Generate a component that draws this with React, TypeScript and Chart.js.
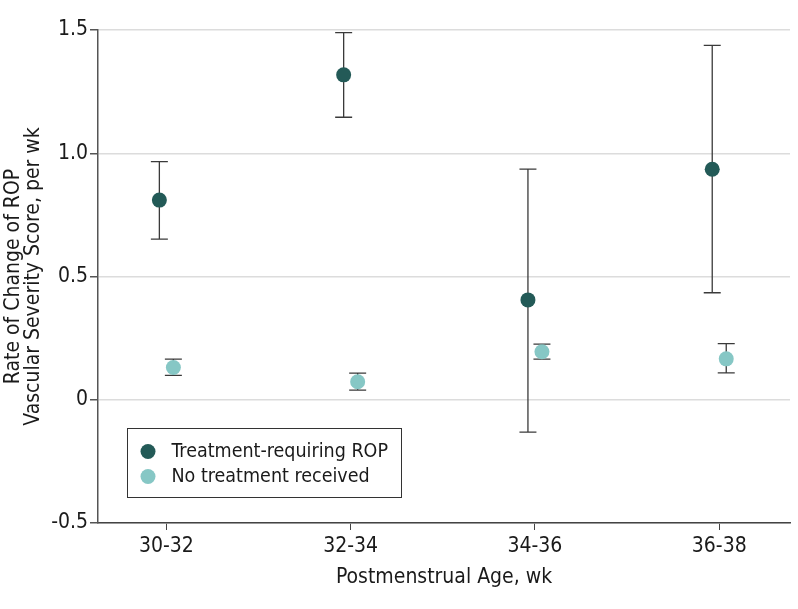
import React, { useEffect, useRef } from "react";
import { Chart, registerables } from "chart.js";

Chart.register(...registerables);

const categories = ["30-32", "32-34", "34-36", "36-38"];
const seriesNames = ["Treatment-requiring ROP", "No treatment received"];
const treatMean = [0.81, 1.318, 0.405, 0.935];
const treatLow = [0.652, 1.146, -0.131, 0.434];
const treatHigh = [0.966, 1.489, 0.936, 1.438];
const noTreatMean = [0.131, 0.073, 0.195, 0.166];
const noTreatLow = [0.099, 0.039, 0.165, 0.109];
const noTreatHigh = [0.165, 0.108, 0.226, 0.228];
const yTicks = [-0.5, 0, 0.5, 1.0, 1.5];
const yTickLabels = ["-0.5", "0", "0.5", "1.0", "1.5"];

const DARK = "#235a57";
const LIGHT = "#86c7c5";
const FONT = "'DejaVu Sans Condensed', 'DejaVu Sans', sans-serif";
const OFFSET = 0.038;

const errorBarPlugin = {
  id: "errorBars",
  beforeDatasetsDraw(chart: any) {
    const ctx = chart.ctx;
    const xs = chart.scales.x;
    const ys = chart.scales.y;
    chart.data.datasets.forEach((ds: any) => {
      ds.data.forEach((p: any) => {
        const x = xs.getPixelForValue(p.x);
        const y1 = ys.getPixelForValue(p.low);
        const y2 = ys.getPixelForValue(p.high);
        ctx.save();
        ctx.strokeStyle = "#3a3a3a";
        ctx.lineWidth = 1.3;
        ctx.beginPath();
        ctx.moveTo(x, y1);
        ctx.lineTo(x, y2);
        ctx.moveTo(x - 8.5, y1);
        ctx.lineTo(x + 8.5, y1);
        ctx.moveTo(x - 8.5, y2);
        ctx.lineTo(x + 8.5, y2);
        ctx.stroke();
        ctx.restore();
      });
    });
  },
};

const legendPlugin = {
  id: "boxLegend",
  afterDraw(chart: any) {
    const ctx = chart.ctx;
    const left = 127.5;
    const top = 428.5;
    const w = 274;
    const h = 69;
    ctx.save();
    ctx.fillStyle = "#ffffff";
    ctx.fillRect(left, top, w, h);
    ctx.strokeStyle = "#333333";
    ctx.lineWidth = 1;
    ctx.strokeRect(left, top, w, h);
    chart.data.datasets.forEach((ds: any, i: number) => {
      const cy = top + 23 + i * 25;
      ctx.beginPath();
      ctx.arc(left + 20.5, cy, 7.5, 0, Math.PI * 2);
      ctx.fillStyle = ds.backgroundColor;
      ctx.fill();
      ctx.fillStyle = "#1a1a1a";
      ctx.font = `19.5px ${FONT}`;
      ctx.textBaseline = "middle";
      ctx.textAlign = "left";
      ctx.fillText(ds.label, left + 44, cy);
    });
    ctx.restore();
  },
};

export default function App() {
  const ref = useRef<HTMLCanvasElement | null>(null);
  useEffect(() => {
    document.body.style.margin = "0";
    if (!ref.current) return;
    const mk = (mean: number[], low: number[], high: number[], off: number) =>
      mean.map((m, i) => ({ x: i + off, y: m, low: low[i], high: high[i] }));
    const chart = new Chart(ref.current, {
      type: "scatter",
      data: {
        datasets: [
          {
            label: seriesNames[0],
            data: mk(treatMean, treatLow, treatHigh, -OFFSET) as any,
            backgroundColor: DARK,
            borderColor: DARK,
            pointRadius: 7.5,
            borderWidth: 0,
          },
          {
            label: seriesNames[1],
            data: mk(noTreatMean, noTreatLow, noTreatHigh, OFFSET) as any,
            backgroundColor: LIGHT,
            borderColor: LIGHT,
            pointRadius: 7.5,
            borderWidth: 0,
          },
        ],
      },
      options: {
        animation: false,
        responsive: false,
        maintainAspectRatio: false,
        layout: { padding: { top: 30, right: 8, left: 3, bottom: 19 } },
        plugins: { legend: { display: false }, tooltip: { enabled: false } },
        scales: {
          x: {
            type: "linear",
            min: -0.371,
            max: 3.384,
            afterBuildTicks: (s: any) => {
              s.ticks = categories.map((_, i) => ({ value: i }));
            },
            afterFit: (s: any) => {
              s.height = 67;
            },
            ticks: {
              callback: (v: any) => categories[v] ?? "",
              font: { family: FONT, size: 21 },
              color: "#1a1a1a",
              padding: 4,
              maxRotation: 0,
            },
            grid: {
              drawOnChartArea: false,
              drawTicks: true,
              tickLength: 7,
              tickColor: "#444",
            },
            border: { color: "#444", width: 1.5 },
            title: {
              display: true,
              text: "Postmenstrual Age, wk",
              font: { family: FONT, size: 21 },
              color: "#1a1a1a",
              padding: { top: 0, bottom: 0 },
            },
          },
          y: {
            type: "linear",
            min: -0.5,
            max: 1.5,
            afterBuildTicks: (s: any) => {
              s.ticks = yTicks.map((v) => ({ value: v }));
            },
            afterFit: (s: any) => {
              s.width = 95;
            },
            ticks: {
              callback: (v: any) => yTickLabels[yTicks.indexOf(v)] ?? "",
              font: { family: FONT, size: 21 },
              color: "#1a1a1a",
              padding: 2,
            },
            grid: {
              color: "#dcdcdc",
              lineWidth: 1.5,
              tickLength: 8,
              tickColor: "#555",
            },
            border: { color: "#555", width: 1.5 },
            title: {
              display: true,
              text: ["Rate of Change of ROP", "Vascular Severity Score, per wk"],
              font: { family: FONT, size: 21, lineHeight: 0.97 },
              color: "#1a1a1a",
              padding: { top: 0, bottom: 0 },
            },
          },
        },
      },
      plugins: [errorBarPlugin, legendPlugin],
    });
    return () => chart.destroy();
  }, []);
  return (
    <div style={{ position: "absolute", left: 0, top: 0, width: 798, height: 609 }}>
      <canvas ref={ref} width={798} height={609} style={{ width: 798, height: 609 }} />
    </div>
  );
}
